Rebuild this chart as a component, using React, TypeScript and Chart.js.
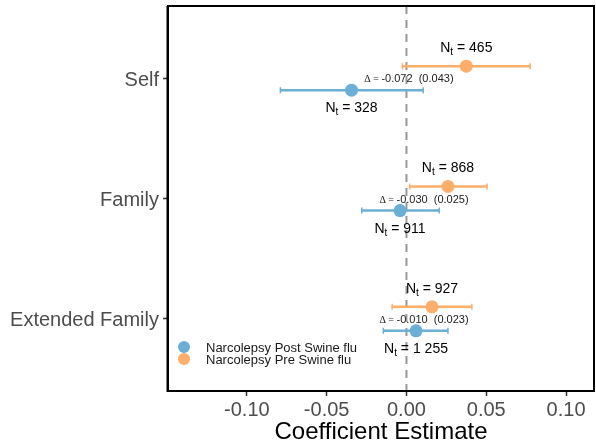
import React, { useEffect, useRef } from "react";
import { Chart, registerables } from "chart.js";

Chart.register(...registerables);

const categories = ["Self", "Family", "Extended Family"];
const postEst = [-0.0344, -0.004, 0.006];
const postLo = [-0.079, -0.028, -0.0145];
const postHi = [0.0105, 0.0205, 0.026];
const preEst = [0.0375, 0.026, 0.016];
const preLo = [-0.0025, 0.002, -0.009];
const preHi = [0.0775, 0.0505, 0.041];
const postN = ["328", "911", "1 255"];
const preN = ["465", "868", "927"];
const deltaVals = ["-0.072", "-0.030", "-0.010"];
const deltaSE = ["0.043", "0.025", "0.023"];
const xTicks = [-0.1, -0.05, 0, 0.05, 0.1];
const seriesNames = ["Narcolepsy Post Swine flu", "Narcolepsy Pre Swine flu"];

const BLUE = "#6baed6";
const ORANGE = "#fdae6b";
const OFFSET = 0.1;
const SANS = "'Liberation Sans', Arial, Helvetica, sans-serif";

const overlay = {
  id: "overlay",
  beforeDatasetsDraw(chart: any) {
    const { ctx, chartArea: a, scales } = chart;
    const x = scales.x, y = scales.y;
    ctx.save();
    ctx.strokeStyle = "#999999";
    ctx.lineWidth = 2;
    ctx.setLineDash([8, 6]);
    ctx.beginPath();
    ctx.moveTo(x.getPixelForValue(0), a.top);
    ctx.lineTo(x.getPixelForValue(0), a.bottom);
    ctx.stroke();
    ctx.setLineDash([]);
    const drawBar = (lo: number, hi: number, yv: number, color: string) => {
      const x1 = x.getPixelForValue(lo), x2 = x.getPixelForValue(hi), yp = y.getPixelForValue(yv);
      ctx.strokeStyle = color;
      ctx.lineWidth = 2.5;
      ctx.beginPath();
      ctx.moveTo(x1, yp); ctx.lineTo(x2, yp);
      ctx.stroke();
      ctx.lineWidth = 1.5;
      ctx.beginPath();
      ctx.moveTo(x1, yp - 3); ctx.lineTo(x1, yp + 3);
      ctx.moveTo(x2, yp - 3); ctx.lineTo(x2, yp + 3);
      ctx.stroke();
    };
    categories.forEach((_, i) => {
      drawBar(preLo[i], preHi[i], i + 1 - OFFSET, ORANGE);
      drawBar(postLo[i], postHi[i], i + 1 + OFFSET, BLUE);
    });
    ctx.restore();
  },
  afterDatasetsDraw(chart: any) {
    const { ctx, chartArea: a, scales } = chart;
    const x = scales.x, y = scales.y;
    ctx.save();
    const drawN = (cx: number, baseline: number, val: string) => {
      ctx.font = `14px ${SANS}`;
      const wN = ctx.measureText("N").width;
      ctx.font = `10px ${SANS}`;
      const wt = ctx.measureText("t").width;
      ctx.font = `14px ${SANS}`;
      const rest = " = " + val;
      const wr = ctx.measureText(rest).width;
      const total = wN + wt + wr;
      const sx = cx - total / 2;
      ctx.fillStyle = "#000";
      ctx.textAlign = "left";
      ctx.textBaseline = "alphabetic";
      ctx.fillText("N", sx, baseline);
      ctx.font = `10px ${SANS}`;
      ctx.fillText("t", sx + wN, baseline + 3);
      ctx.font = `14px ${SANS}`;
      ctx.fillText(rest, sx + wN + wt, baseline);
    };
    categories.forEach((_, i) => {
      const yPre = y.getPixelForValue(i + 1 - OFFSET);
      const yPost = y.getPixelForValue(i + 1 + OFFSET);
      drawN(x.getPixelForValue(preEst[i]), yPre - 14, preN[i]);
      drawN(x.getPixelForValue(postEst[i]), yPost + 22, postN[i]);
      const cx = x.getPixelForValue((preEst[i] + postEst[i]) / 2);
      const cy = y.getPixelForValue(i + 1);
      const p1 = "\u0394 = ";
      const p2 = deltaVals[i] + "  (" + deltaSE[i] + ")";
      ctx.font = `10px 'Liberation Serif', 'DejaVu Serif', serif`;
      const w1 = ctx.measureText(p1).width;
      ctx.font = `11px ${SANS}`;
      const w2 = ctx.measureText(p2).width;
      const sx = cx - (w1 + w2) / 2;
      ctx.fillStyle = "#222";
      ctx.textAlign = "left";
      ctx.textBaseline = "alphabetic";
      ctx.font = `10px 'Liberation Serif', 'DejaVu Serif', serif`;
      ctx.fillText(p1, sx, cy + 4);
      ctx.font = `11px ${SANS}`;
      ctx.fillText(p2, sx + w1, cy + 4);
    });
    const lx = 184, ly = 347;
    [BLUE, ORANGE].forEach((c, k) => {
      ctx.fillStyle = c;
      ctx.beginPath();
      ctx.arc(lx, ly + k * 12, 6, 0, Math.PI * 2);
      ctx.fill();
      ctx.fillStyle = "#1a1a1a";
      ctx.font = `13px ${SANS}`;
      ctx.textBaseline = "middle";
      ctx.fillText(seriesNames[k], 206, ly + k * 12 + 1);
    });
    ctx.strokeStyle = "#000";
    ctx.lineWidth = 2;
    ctx.strokeRect(a.left, a.top, a.right - a.left, a.bottom - a.top);
    ctx.beginPath();
    ctx.moveTo(a.left - 0.5, a.top);
    ctx.lineTo(a.left - 0.5, a.bottom + 1);
    ctx.stroke();
    ctx.restore();
  },
};

const zeroPad = (s: any) => {
  s.paddingTop = 0;
  s.paddingBottom = 0;
  s.paddingLeft = 0;
  s.paddingRight = 0;
};

export default function App() {
  const ref = useRef<HTMLCanvasElement>(null);
  useEffect(() => {
    if (!ref.current) return;
    const chart = new Chart(ref.current, {
      type: "scatter",
      data: {
        datasets: [
          {
            label: seriesNames[0],
            data: postEst.map((v, i) => ({ x: v, y: i + 1 + OFFSET })),
            backgroundColor: BLUE,
            borderWidth: 0,
            pointRadius: 6.5,
          },
          {
            label: seriesNames[1],
            data: preEst.map((v, i) => ({ x: v, y: i + 1 - OFFSET })),
            backgroundColor: ORANGE,
            borderWidth: 0,
            pointRadius: 6.5,
          },
        ],
      },
      options: {
        animation: false,
        responsive: false,
        layout: { autoPadding: false, padding: { left: 0, right: 2, top: 6, bottom: 0 } },
        plugins: { legend: { display: false }, tooltip: { enabled: false } },
        scales: {
          x: {
            type: "linear",
            min: -0.1494,
            max: 0.1175,
            afterBuildTicks: (s: any) => {
              s.ticks = xTicks.map((v) => ({ value: v }));
            },
            afterFit: (s: any) => {
              s.height = 56;
              zeroPad(s);
            },
            ticks: {
              callback: (v: any) => Number(v).toFixed(2),
              font: { size: 20, family: SANS },
              color: "#4d4d4d",
              padding: 2,
              maxRotation: 0,
            },
            grid: { display: true, drawOnChartArea: false, drawTicks: true, tickLength: 5, color: "#333", tickWidth: 1.5 },
            border: { display: false },
            title: {
              display: true,
              text: "Coefficient Estimate",
              font: { size: 24, family: SANS },
              color: "#000",
              padding: { top: 0, bottom: 0 },
            },
          },
          y: {
            type: "linear",
            min: 0.4,
            max: 3.6,
            reverse: true,
            afterBuildTicks: (s: any) => {
              s.ticks = categories.map((_, i) => ({ value: i + 1 }));
            },
            afterFit: (s: any) => {
              s.width = 168;
              zeroPad(s);
            },
            ticks: {
              callback: (v: any) => categories[Math.round(Number(v)) - 1] ?? "",
              font: { size: 20, family: SANS },
              color: "#4d4d4d",
              padding: 4,
              labelOffset: 2,
            },
            grid: { display: true, drawOnChartArea: false, drawTicks: true, tickLength: 5, color: "#333", tickWidth: 1.5 },
            border: { display: false },
          },
        },
      },
      plugins: [overlay],
    });
    return () => chart.destroy();
  }, []);
  return (
    <div style={{ position: "absolute", left: 0, top: 0, width: 596, height: 447, background: "#fff" }}>
      <canvas ref={ref} width={596} height={447} />
    </div>
  );
}
